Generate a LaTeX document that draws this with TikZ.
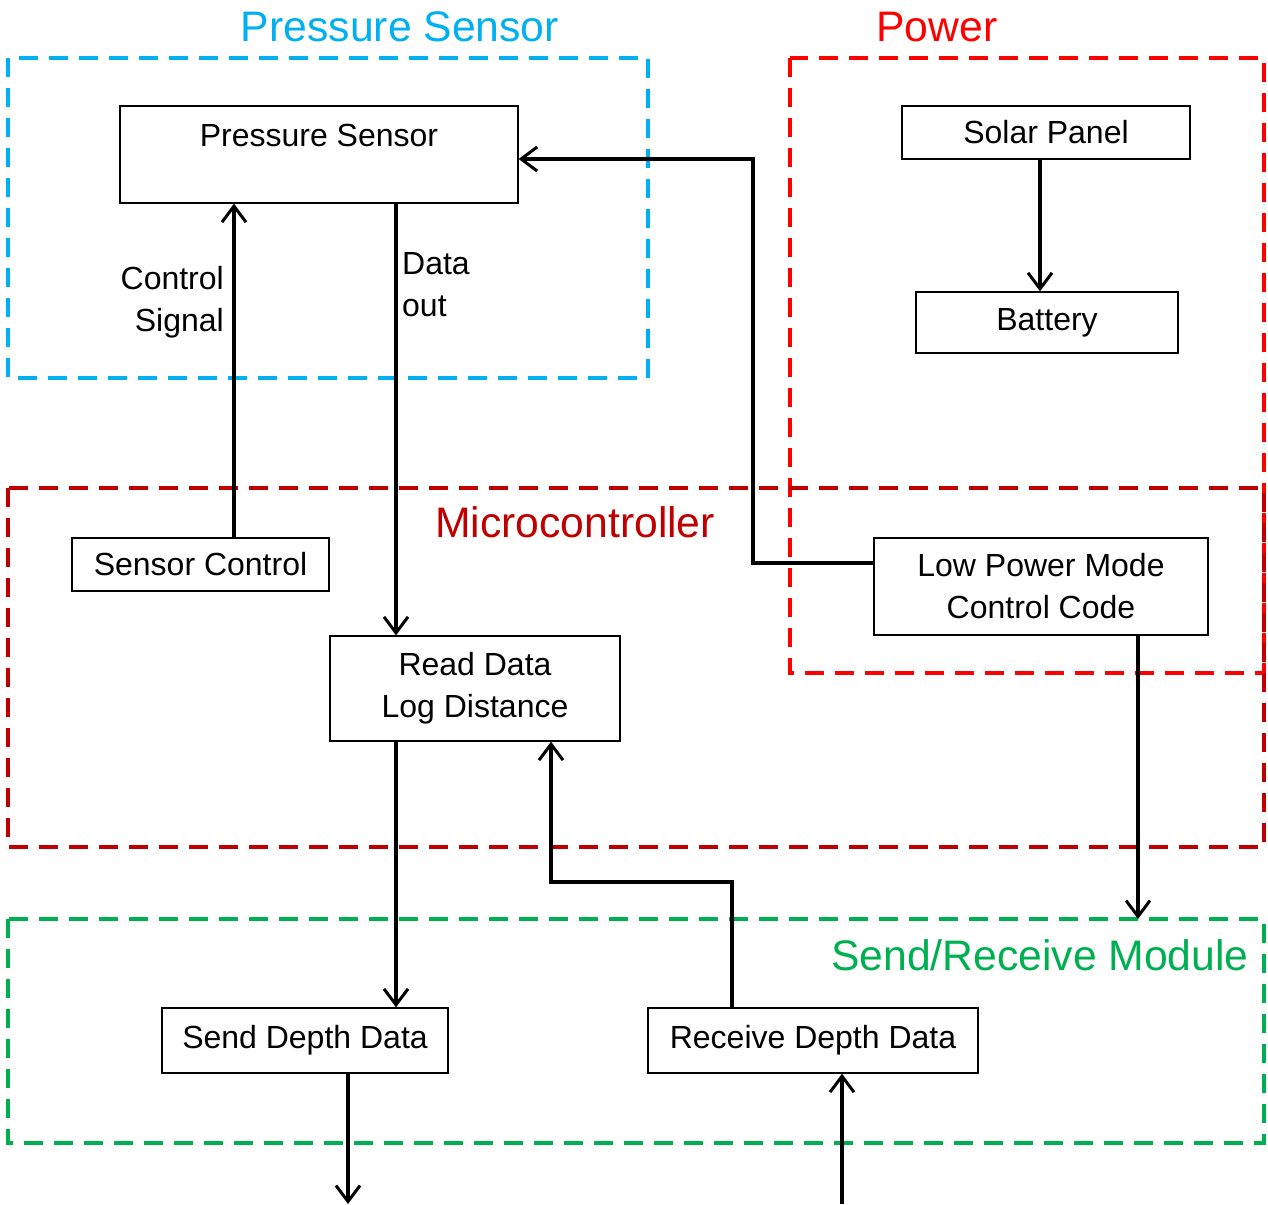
\documentclass[tikz,border=0pt]{standalone}
\usepackage{fontspec}
\setmainfont{Liberation Sans}
\usetikzlibrary{arrows.meta}
\definecolor{psblue}{HTML}{00B0F0}
\definecolor{pwred}{HTML}{FF0000}
\definecolor{mcred}{HTML}{C00000}
\definecolor{srgreen}{HTML}{00B050}
\begin{document}
\begin{tikzpicture}[x=1pt,y=-1pt,
  group/.style={line width=4.5pt,dash pattern=on 19pt off 11pt},
  grouptitle/.style={inner sep=0pt,font=\fontsize{42.7}{48}\selectfont},
  block/.style={draw,line width=1.3pt,fill=white,inner sep=0pt,align=center,
    font=\fontsize{32}{42}\selectfont},
  flow/.style={line width=3.5pt,-{Straight Barb[length=16pt,width=24pt,line width=3pt]}},
  lbl/.style={inner sep=0pt,font=\fontsize{32}{42}\selectfont}]
\useasboundingbox (0,0) rectangle (1268,1204);

% group outlines
\draw[group,psblue]  (8,58) rectangle (648,378);
\draw[group,pwred]   (790,58) rectangle (1264,673);
\draw[group,mcred]   (8,488) rectangle (1264,847);
\draw[group,srgreen] (8,919) rectangle (1264,1143);

% group titles
\node[grouptitle,psblue] (tps) at (400,27) {Pressure Sensor};
\node[grouptitle,pwred]  (tpw) at (937,27) {Power};
\node[grouptitle,mcred]  (tmc) at (575,522) {Microcontroller};
\node[grouptitle,srgreen,anchor=east] (tsr) at (1249,955) {Send/Receive Module};

% blocks
\node[block,minimum width=398pt,minimum height=97pt] (ps) at (319,154.5)
  {Pressure Sensor\\[-4pt]\phantom{X}};
\node[block,minimum width=288pt,minimum height=53pt] (solar) at (1046,132.5) {Solar Panel};
\node[block,minimum width=262pt,minimum height=61pt] (bat) at (1047,322.5) {Battery};
\node[block,minimum width=257pt,minimum height=53pt] (sc) at (200.5,564.5) {Sensor Control};
\node[block,minimum width=290pt,minimum height=105pt] (rd) at (475,688.5) {Read Data\\Log Distance};
\node[block,minimum width=334pt,minimum height=97pt] (lp) at (1041,586.5) {Low Power Mode\\Control Code};
\node[block,minimum width=286pt,minimum height=65pt] (sd) at (305,1040.5) {Send Depth Data};
\node[block,minimum width=330pt,minimum height=65pt] (rv) at (813,1040.5) {Receive Depth Data};

% free ends and corners
\coordinate (srtop) at (1138,919);
\coordinate (outS) at (348,1204);
\coordinate (inR) at (842,1204);
\coordinate (bendA) at (753,563);
\coordinate (bendB) at (753,159);
\coordinate (bendC) at (732,882);
\coordinate (bendD) at (551,882);

% connectors
\draw[flow] (sc.north -| 234,0) -- (ps.south -| 234,0);
\draw[flow] (ps.south -| 396,0) -- (rd.north -| 396,0);
\draw[flow] (lp.west |- 0,563) -- (bendA) -- (bendB) -- (ps.east |- 0,159);
\draw[flow] (solar.south -| 1040,0) -- (bat.north -| 1040,0);
\draw[flow] (lp.south -| 1138,0) -- (srtop);
\draw[flow] (rd.south -| 396,0) -- (sd.north -| 396,0);
\draw[flow] (rv.north -| 732,0) -- (bendC) -- (bendD) -- (rd.south -| 551,0);
\draw[flow] (sd.south -| 348,0) -- (outS);
\draw[flow] (inR) -- (rv.south -| 842,0);

% connector labels
\node[lbl,align=right,anchor=north east] (cs) at (224,266) {Control\\Signal};
\node[lbl,align=left,anchor=north west] (dout) at (402,252) {Data\\out};
\end{tikzpicture}
\end{document}
